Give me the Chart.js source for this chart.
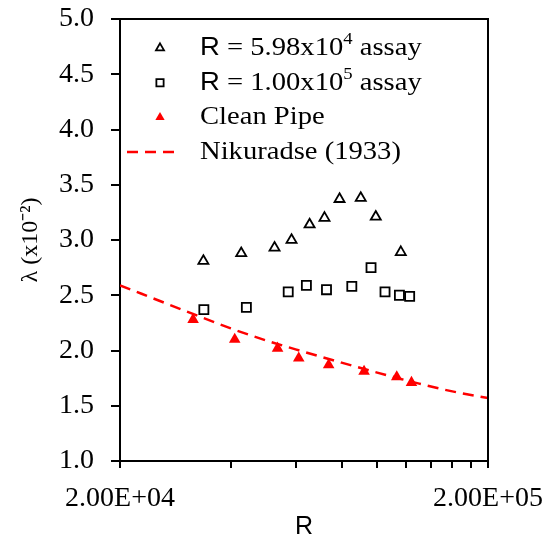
<!DOCTYPE html>
<html>
<head>
<meta charset="utf-8">
<script src="https://cdn.jsdelivr.net/npm/chart.js@4.4.0/dist/chart.umd.min.js"></script>
<style>
  html, body { margin: 0; padding: 0; background: #fff; }
  #wrap { width: 549px; height: 549px; }
</style>
</head>
<body>
<div id="wrap"><canvas id="chart" width="549" height="549"></canvas></div>
<script>
// R = 5.98x10^4 assay (open triangles)
const assay598R = [33700, 42700, 52600, 58500, 65500, 71900, 79000, 90200, 99100, 115900];
const assay598Lambda = [2.81, 2.88, 2.93, 3.00, 3.14, 3.20, 3.37, 3.38, 3.21, 2.89];

// R = 1.00x10^5 assay (open squares)
const assay100R = [33800, 44100, 57300, 64200, 72800, 85300, 96200, 105000, 114900, 122500];
const assay100Lambda = [2.37, 2.39, 2.53, 2.59, 2.55, 2.58, 2.75, 2.53, 2.50, 2.49];

// clean pipe (red filled triangles)
const cleanR = [31600, 41000, 53600, 61200, 73800, 92100, 113000, 123900];
const cleanLambda = [2.28, 2.10, 2.02, 1.93, 1.87, 1.81, 1.76, 1.71];

// Nikuradse (1933) curve
const nikuradseR = [20000, 30000, 40000, 50000, 60000, 80000, 100000, 130000, 160000, 200000];
const nikuradseLambda = [2.59, 2.36, 2.20, 2.09, 2.01, 1.89, 1.80, 1.70, 1.63, 1.57];

const seriesLabels = ['R = 5.98x10^4 assay', 'R = 1.00x10^5 assay', 'Clean Pipe', 'Nikuradse (1933)'];

const xTickValues = [20000, 40000, 60000, 80000, 100000, 120000, 140000, 160000, 180000, 200000];
const xLabelValues = [20000, 200000];

const SERIF = '"Liberation Serif", "Times New Roman", Times, serif';
const SANS = '"Liberation Sans", Arial, Helvetica, sans-serif';

function toPoints(xs, ys) {
  return xs.map((x, i) => ({ x: x, y: ys[i] }));
}

function fmtE(v) {
  const parts = v.toExponential(2).split('e');
  const exp = Number(parts[1]);
  return parts[0] + 'E' + (exp < 0 ? '-' : '+') + String(Math.abs(exp)).padStart(2, '0');
}

// text with ^x superscripts, leading "R" in sans
function drawRich(ctx, text, x, y) {
  ctx.save();
  ctx.translate(x, y);
  ctx.scale(1.1, 1);
  ctx.textBaseline = 'middle';
  ctx.textAlign = 'left';
  ctx.fillStyle = '#000';
  let cx = 0;
  text.split(/(\^\S)/).forEach(p => {
    if (!p) return;
    if (p[0] === '^') {
      ctx.font = '17px ' + SERIF;
      ctx.fillText(p.slice(1), cx, -8);
      cx += ctx.measureText(p.slice(1)).width;
      return;
    }
    if (p.indexOf('R ') === 0) {
      ctx.font = '25px ' + SANS;
      ctx.fillText('R', cx, 0);
      cx += ctx.measureText('R').width;
      p = p.slice(1);
    }
    ctx.font = '26px ' + SERIF;
    ctx.fillText(p, cx, 0);
    cx += ctx.measureText(p).width;
  });
  ctx.restore();
}

const framePlugin = {
  id: 'frame',
  afterDraw(chart) {
    const { ctx, chartArea } = chart;
    ctx.save();
    ctx.strokeStyle = '#000';
    ctx.lineWidth = 2;
    ctx.beginPath();
    ctx.moveTo(chartArea.left, chartArea.top);
    ctx.lineTo(chartArea.right, chartArea.top);
    ctx.lineTo(chartArea.right, chartArea.bottom);
    ctx.stroke();
    ctx.restore();
  }
};

const legendPlugin = {
  id: 'insideLegend',
  afterDraw(chart) {
    const { ctx, chartArea } = chart;
    const left = chartArea.left;
    chart.data.datasets.forEach((ds, i) => {
      const y = chartArea.top + 29 + i * 34.7;
      ctx.save();
      if (ds.showLine) {
        ctx.strokeStyle = ds.borderColor;
        ctx.lineWidth = ds.borderWidth;
        ctx.setLineDash(ds.borderDash);
        ctx.beginPath();
        ctx.moveTo(left + 7, y);
        ctx.lineTo(left + 61, y);
        ctx.stroke();
      } else {
        ctx.fillStyle = ds.backgroundColor;
        ctx.strokeStyle = ds.borderColor;
        ctx.lineWidth = ds.pointBorderWidth;
        Chart.helpers.drawPoint(ctx, {
          pointStyle: ds.pointStyle,
          radius: ds.pointRadius * 0.8,
          borderWidth: ds.pointBorderWidth,
          rotation: 0
        }, left + 40, y);
      }
      ctx.restore();
      drawRich(ctx, ds.label, left + 80, y);
    });
  }
};

function drawChart() {
  const tickFont = { family: SERIF, size: 28 };

  new Chart(document.getElementById('chart'), {
    type: 'scatter',
    data: {
      datasets: [
        {
          label: seriesLabels[0],
          data: toPoints(assay598R, assay598Lambda),
          pointStyle: 'triangle',
          pointRadius: 5.8,
          pointBorderWidth: 1.8,
          borderColor: '#000',
          backgroundColor: '#fff'
        },
        {
          label: seriesLabels[1],
          data: toPoints(assay100R, assay100Lambda),
          pointStyle: 'rect',
          pointRadius: 6.4,
          pointBorderWidth: 1.8,
          borderColor: '#000',
          backgroundColor: '#fff'
        },
        {
          label: seriesLabels[2],
          data: toPoints(cleanR, cleanLambda),
          pointStyle: 'triangle',
          pointRadius: 6.7,
          pointBorderWidth: 0,
          borderColor: '#ff0000',
          backgroundColor: '#ff0000'
        },
        {
          label: seriesLabels[3],
          data: toPoints(nikuradseR, nikuradseLambda),
          showLine: true,
          borderColor: '#ff0000',
          backgroundColor: '#ff0000',
          borderWidth: 2.5,
          borderDash: [11, 7],
          pointRadius: 0,
          cubicInterpolationMode: 'monotone'
        }
      ]
    },
    options: {
      responsive: false,
      animation: false,
      layout: { padding: { left: 0, right: 61, top: 19, bottom: 0 } },
      plugins: {
        legend: { display: false },
        tooltip: { enabled: false }
      },
      scales: {
        x: {
          type: 'logarithmic',
          min: 20000,
          max: 200000,
          afterFit(scale) {
            scale.height = 88;
            scale.paddingLeft = 0;
            scale.paddingRight = 0;
          },
          afterBuildTicks(scale) {
            scale.ticks = xTickValues.map(v => ({ value: v }));
          },
          ticks: {
            autoSkip: false,
            maxRotation: 0,
            padding: 14,
            color: '#000',
            font: tickFont,
            callback: v => xLabelValues.includes(v) ? fmtE(v) : ''
          },
          grid: { drawOnChartArea: false, tickLength: 7, color: '#000', lineWidth: 2 },
          border: { color: '#000', width: 2 },
          title: {
            display: true,
            text: 'R',
            color: '#000',
            font: { family: SANS, size: 25 },
            padding: { top: 0, bottom: 7 }
          }
        },
        y: {
          min: 1,
          max: 5,
          afterFit(scale) {
            scale.width = 120;
            scale.paddingTop = 0;
            scale.paddingBottom = 0;
          },
          ticks: {
            stepSize: 0.5,
            padding: 17,
            color: '#000',
            font: tickFont,
            callback: v => v.toFixed(1)
          },
          grid: { drawOnChartArea: false, tickLength: 9, color: '#000', lineWidth: 2 },
          border: { color: '#000', width: 2 },
          title: {
            display: true,
            text: 'λ (x10⁻²)',
            color: '#000',
            font: { family: SERIF, size: 24 },
            padding: { top: 16, bottom: 0 }
          }
        }
      }
    },
    plugins: [framePlugin, legendPlugin]
  });
}

Promise.all([
  document.fonts.load('28px "Liberation Serif"'),
  document.fonts.load('25px "Liberation Sans"')
]).catch(() => null).then(drawChart);
</script>
</body>
</html>
